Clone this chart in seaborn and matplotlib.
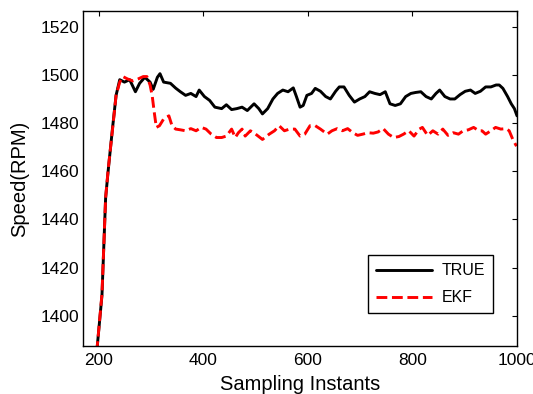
"""
Velocidad real vs. estimada por EKF (grafica estilo MATLAB).
Guarda la figura en out.png
"""
from matplotlib import pyplot as plt
import seaborn as sns

# Datos
true_x = [196, 206, 213, 218, 226, 233, 240, 249, 259, 270, 278, 288, 298, 304,
          312, 317, 324, 337, 347, 356, 366, 376, 386, 392, 402, 412, 422, 435,
          444, 454, 464, 474, 484, 497, 506, 513, 523, 533, 542, 552, 562, 572,
          578, 585, 591, 598, 607, 614, 624, 634, 643, 653, 660, 669, 679, 689,
          699, 709, 718, 728, 738, 748, 757, 767, 777, 787, 797, 806, 816, 826,
          836, 845, 852, 862, 872, 881, 891, 901, 911, 920, 930, 940, 950, 960,
          966, 973, 982, 989, 995, 1000]
true_y = [1385, 1408.5, 1449, 1460.5, 1477.5, 1491.5, 1498, 1497, 1498, 1493,
          1496.5, 1499, 1497, 1494, 1499, 1500.5, 1497, 1496.5, 1494.5, 1493,
          1491.5, 1492.3, 1491, 1493.7, 1491, 1489.4, 1486.6, 1486, 1487.6,
          1485.6, 1486, 1486.6, 1485.2, 1488, 1486, 1483.8, 1486, 1490, 1492.3,
          1493.7, 1493, 1494.6, 1491, 1486.6, 1487.3, 1491.5, 1492.3, 1494.4,
          1493.2, 1491, 1490, 1493.2, 1495, 1495, 1491.5, 1488.7, 1490, 1491,
          1493, 1492.3, 1491.8, 1493, 1488, 1487.3, 1488, 1491, 1492.3, 1492.7,
          1493, 1491, 1490, 1492.3, 1493.7, 1491, 1490, 1490, 1491.8, 1493.2,
          1493.7, 1492.3, 1493.2, 1495, 1495, 1495.8, 1495.8, 1494.4, 1491,
          1488, 1486, 1483]

ekf_x = [196, 206, 213, 218, 226, 233, 240, 246, 255, 265, 275, 285, 292, 298,
         302, 306, 310, 316, 324, 334, 340, 347, 356, 366, 376, 386, 396, 405,
         415, 425, 435, 444, 454, 461, 467, 474, 480, 490, 500, 513, 526, 536,
         545, 555, 565, 575, 585, 594, 604, 614, 624, 637, 646, 656, 666, 676,
         686, 695, 705, 715, 725, 734, 744, 754, 764, 774, 783, 793, 803, 813,
         819, 829, 839, 849, 858, 868, 878, 888, 897, 907, 917, 927, 933, 940,
         950, 959, 969, 979, 985, 992, 999]
ekf_y = [1385, 1409, 1449, 1461, 1477, 1491.5, 1497, 1499.3, 1498.3, 1497.5,
         1498.3, 1499.3, 1499.3, 1495.8, 1491.5, 1484.5, 1478.2, 1478.9, 1481.7,
         1483, 1478.9, 1477.5, 1477.2, 1476.8, 1477.7, 1476.8, 1478.2, 1477.5,
         1475.4, 1474, 1474, 1474.6, 1477.5, 1474, 1476, 1477.5, 1474.6, 1476.8,
         1475.4, 1473.2, 1475.4, 1476.8, 1478.9, 1476.8, 1477.5, 1477.5, 1474.6,
         1475.4, 1478.9, 1478.9, 1477.5, 1475.4, 1476.8, 1477.7, 1476.8, 1477.7,
         1476, 1474.9, 1475.4, 1476, 1475.8, 1476.3, 1477.7, 1475.4, 1474,
         1474.4, 1475.4, 1476.8, 1474.6, 1477.5, 1478.2, 1474.9, 1476.8, 1475.4,
         1477.5, 1474.9, 1476, 1475.4, 1476.8, 1477.2, 1478.2, 1476.8, 1476.8,
         1475.4, 1476.8, 1478.2, 1477.5, 1477.7, 1476.8, 1473.2, 1470.4]

x_ticks = [200, 400, 600, 800, 1000]
y_ticks = [1400, 1420, 1440, 1460, 1480, 1500, 1520]

sns.set_style("white")
plt.rcParams['font.family'] = ['Liberation Sans', 'DejaVu Sans']
plt.rcParams['text.color'] = 'black'
plt.rcParams['axes.labelcolor'] = 'black'

fig = plt.figure(figsize=(5.33, 3.94), dpi=100)
ax = fig.add_axes([0.156, 0.122, 0.814, 0.850])

sns.lineplot(x=true_x, y=true_y, color='black', linewidth=2.1, label='TRUE',
             ax=ax)
sns.lineplot(x=ekf_x, y=ekf_y, color='red', linewidth=2.1, linestyle='--',
             dashes=(3, 1.2), label='EKF', ax=ax)

ax.set_xlim(170, 1000)
ax.set_ylim(1387.5, 1526.5)
ax.set_xticks(x_ticks)
ax.set_yticks(y_ticks)
ax.tick_params(direction='in', length=3.5, width=0.8, top=True, right=True,
               labelsize=12.5, colors='black', labelcolor='black')
ax.tick_params(axis='x', pad=5)
ax.tick_params(axis='y', pad=3)
for sp in ax.spines.values():
    sp.set_color('black')
    sp.set_linewidth(1.0)

ax.set_xlabel('Sampling Instants', fontsize=14.5, labelpad=5, color='black')
ax.set_ylabel('Speed(RPM)', fontsize=14.5, labelpad=8, color='black')

leg = ax.legend(loc='lower right', bbox_to_anchor=(0.945, 0.098),
                borderaxespad=0, fontsize=11.5, fancybox=False,
                edgecolor='black', framealpha=1, handlelength=3.5,
                labelspacing=0.75, borderpad=0.5, handletextpad=0.6)
leg.get_frame().set_linewidth(1.0)
for t in leg.get_texts():
    t.set_color('black')

fig.savefig('out.png', dpi=100)
